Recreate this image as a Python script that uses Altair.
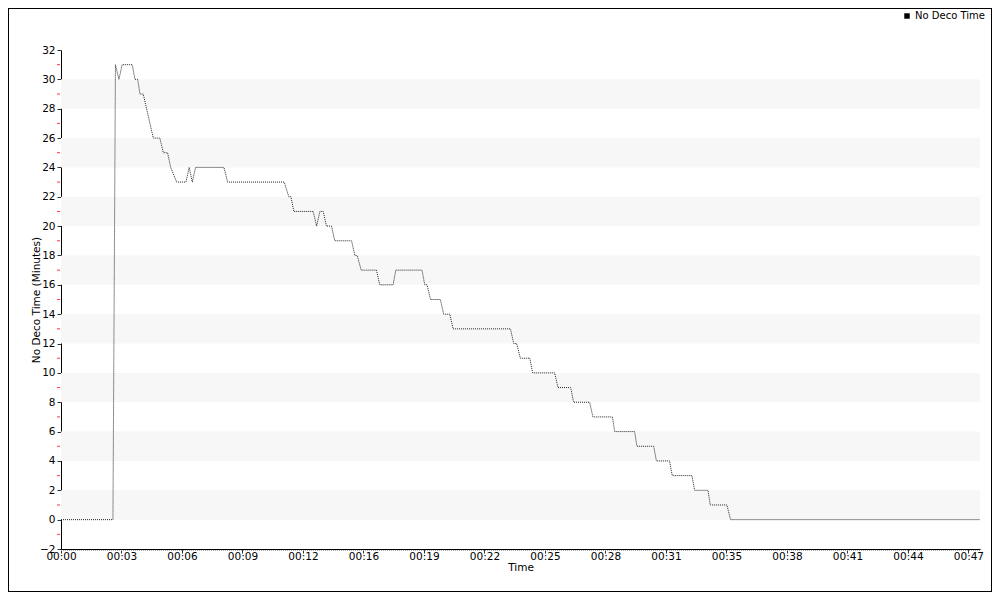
import json
import altair as alt
import pandas as pd

# --- data ---
time_min = [0, 2.69, 2.82, 3.00, 3.17, 3.69, 3.83, 3.97, 4.09, 4.26,
            4.78, 5.12, 5.30, 5.52, 5.68, 5.99, 6.47, 6.64, 6.80, 6.97,
            8.44, 8.63, 11.56, 11.80, 11.91, 12.06, 13.06, 13.24, 13.41, 13.58,
            13.75, 14.01, 14.18, 15.05, 15.22, 15.34, 15.55, 16.34, 16.51, 17.20,
            17.34, 18.70, 18.84, 18.96, 19.14, 19.65, 19.82, 20.14, 20.31, 23.28,
            23.45, 23.60, 23.79, 24.28, 24.43, 25.57, 25.74, 26.40, 26.55, 27.38,
            27.55, 28.56, 28.68, 29.71, 29.83, 30.70, 30.84, 31.52, 31.66, 32.68,
            32.82, 33.51, 33.63, 34.49, 34.68, 47.57]
no_deco = [0, 0, 31, 30, 31, 31, 30, 30, 29, 29,
           26, 26, 25, 25, 24, 23, 23, 24, 23, 24,
           24, 23, 23, 22, 22, 21, 21, 20, 21, 21,
           20, 20, 19, 19, 18, 18, 17, 17, 16, 16,
           17, 17, 16, 16, 15, 15, 14, 14, 13, 13,
           12, 12, 11, 11, 10, 10, 9, 9, 8, 8,
           7, 7, 6, 6, 5, 5, 4, 4, 3, 3,
           2, 2, 1, 1, 0, 0]
series_name = "No Deco Time"
x_tick_labels = ["00:00", "00:03", "00:06", "00:09", "00:12", "00:16", "00:19", "00:22",
                 "00:25", "00:28", "00:31", "00:35", "00:38", "00:41", "00:44", "00:47"]
y_ticks = list(range(-2, 33, 2))
y_minor = list(range(-1, 32, 2))
band_starts = list(range(0, 30, 4))

W, H = 919, 499
PAD = {"left": 53, "top": 42, "right": 12, "bottom": 43}
FONT = "DejaVu Sans"

step = 47 / 15
x_tick_vals = [i * step for i in range(len(x_tick_labels))]

line_df = pd.DataFrame({"t": time_min, "v": no_deco, "series": series_name})
band_df = pd.DataFrame({"start": band_starts, "end": [s + 2 for s in band_starts]})
minor_df = pd.DataFrame({"v": y_minor})

y_scale = alt.Scale(domain=[-2, 32], nice=False, zero=False)
y_axis = alt.Axis(values=y_ticks, title="No Deco Time (Minutes)", tickSize=4,
                  labelPadding=2, titleX=-24.5, titleY=249.5, titleAngle=-90,
                  titleBaseline="middle", titleAlign="center")
x_scale = alt.Scale(domain=[0, 47.6], nice=False, zero=False)
x_axis = alt.Axis(values=x_tick_vals, title="Time", tickSize=4, labelPadding=-2,
                  labelExpr=f"{json.dumps(x_tick_labels)}[round(datum.value / {step})]",
                  titleY=21.5, titleBaseline="alphabetic", labelFlush=False)

bands = alt.Chart(band_df).mark_rect(color="#f7f7f7").encode(
    y=alt.Y("start:Q", scale=y_scale, axis=y_axis),
    y2="end:Q",
    x=alt.value(0), x2=alt.value(W),
)

line = alt.Chart(line_df).mark_line(strokeWidth=1, strokeDash=[1, 1]).encode(
    x=alt.X("t:Q", scale=x_scale, axis=x_axis),
    y=alt.Y("v:Q", scale=y_scale, axis=y_axis),
    color=alt.Color("series:N", scale=alt.Scale(domain=[series_name], range=["#222222"]),
                    legend=alt.Legend(title=None, orient="none", legendX=841, legendY=-39,
                                      symbolType="square", symbolSize=30,
                                      symbolFillColor="black", symbolStrokeColor="black",
                                      symbolStrokeWidth=0, symbolDash=[],
                                      labelFont=FONT, labelFontSize=10, labelColor="black",
                                      labelOffset=3)),
)

minor = alt.Chart(minor_df).mark_rule(color="#ff3333", strokeWidth=1).encode(
    y=alt.Y("v:Q", scale=y_scale, axis=y_axis),
    x=alt.value(-4), x2=alt.value(-1),
)

x_minor = alt.Chart(band_df).mark_rule(color="#aaaaaa", strokeDash=[1, 1], strokeWidth=1).encode(
    x=alt.value(0), x2=alt.value(W), y=alt.value(H + 1.5),
)

frame = alt.Chart(band_df).mark_rect(fillOpacity=0, stroke="black", strokeWidth=1).encode(
    x=alt.value(-PAD["left"] + 0.5), x2=alt.value(W + PAD["right"] - 0.5),
    y=alt.value(-PAD["top"] + 0.5), y2=alt.value(H + PAD["bottom"] - 0.5),
)

chart = alt.layer(bands, x_minor, line, minor, frame).properties(
    width=W, height=H,
    autosize=alt.AutoSizeParams(type="none"),
    padding=PAD,
    background="white",
).configure_view(stroke=None).configure_axis(
    grid=False, labelFont=FONT, titleFont=FONT, labelFontSize=10.5, titleFontSize=10.5,
    titleFontWeight="normal", domainColor="black", tickColor="#333333",
    labelColor="black", titleColor="black",
)

chart.save("out.html", embed_options={"renderer": "svg", "actions": False})
